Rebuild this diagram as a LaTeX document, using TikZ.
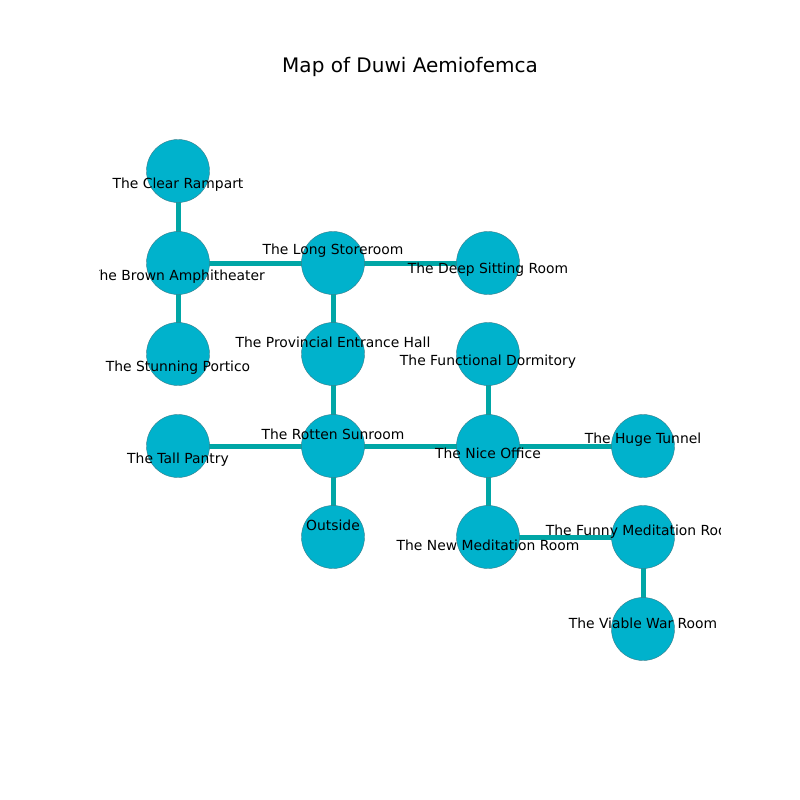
\documentclass[tikz,border=0pt]{standalone}
\usepackage{fontspec}
\setmainfont{DejaVu Sans}
\usetikzlibrary{backgrounds}
\definecolor{nodefill}{HTML}{00B2CC}
\definecolor{edgecol}{HTML}{00A6A6}
\definecolor{nodeline}{HTML}{3A7F8C}
\begin{document}
\begin{tikzpicture}[x=0.72pt,y=-0.72pt,
  room/.style={circle,fill=nodefill,draw=nodeline,line width=0.3pt,minimum size=63*0.72pt,inner sep=0pt},
  link/.style={draw=edgecol,line width=5*0.72pt},
  lbl/.style={font=\fontsize{10pt}{12pt}\selectfont,inner sep=0pt,text=black}]
\useasboundingbox (0,0) rectangle (800,800);
\node[font=\fontsize{14.4pt}{17pt}\selectfont] (title) at (410,67) {Map of Duwi Aemiofemca};
% nodes
\node[room] (clear) at (178,171) {};
\node[room] (brown) at (178,263) {};
\node[room] (stun) at (178,354) {};
\node[room] (tall) at (178,446) {};
\node[room] (long) at (333,263) {};
\node[room] (deep) at (488,263) {};
\node[room] (prov) at (333,354) {};
\node[room] (func) at (488,354) {};
\node[room] (rot) at (333,446) {};
\node[room] (nice) at (488,446) {};
\node[room] (huge) at (643,446) {};
\node[room] (out) at (333,537) {};
\node[room] (newm) at (488,537) {};
\node[room] (funny) at (643,537) {};
\node[room] (viable) at (643,629) {};
% edges
\begin{scope}[on background layer]
\path[link] (clear.center) -- (brown.center);
\path[link] (brown.center) -- (long.center);
\path[link] (brown.center) -- (stun.center);
\path[link] (long.center) -- (deep.center);
\path[link] (long.center) -- (prov.center);
\path[link] (prov.center) -- (rot.center);
\path[link] (tall.center) -- (rot.center);
\path[link] (rot.center) -- (out.center);
\path[link] (rot.center) -- (nice.center);
\path[link] (nice.center) -- (func.center);
\path[link] (nice.center) -- (huge.center);
\path[link] (nice.center) -- (newm.center);
\path[link] (newm.center) -- (funny.center);
\path[link] (funny.center) -- (viable.center);
\end{scope}
% labels
\begin{scope}
\clip (99,96) rectangle (720,712);
\node[lbl] (lclear) at (178,185) {The Clear Rampart};
\node[lbl] (lbrown) at (178,277) {The Brown Amphitheater};
\node[lbl] (lstun) at (178,368) {The Stunning Portico};
\node[lbl] (ltall) at (178,460) {The Tall Pantry};
\node[lbl] (llong) at (333,251) {The Long Storeroom};
\node[lbl] (ldeep) at (488,270) {The Deep Sitting Room};
\node[lbl] (lprov) at (333,342) {The Provincial Entrance Hall};
\node[lbl] (lfunc) at (488,362) {The Functional Dormitory};
\node[lbl] (lrot) at (333,434) {The Rotten Sunroom};
\node[lbl] (lnice) at (488,453) {The Nice Office};
\node[lbl] (lhuge) at (643,440) {The Huge Tunnel};
\node[lbl] (lout) at (333,525) {Outside};
\node[lbl] (lnewm) at (488,545) {The New Meditation Room};
\node[lbl] (lfunny) at (643,532) {The Funny Meditation Room};
\node[lbl] (lviable) at (643,623) {The Viable War Room};
\end{scope}
\end{tikzpicture}
\end{document}
